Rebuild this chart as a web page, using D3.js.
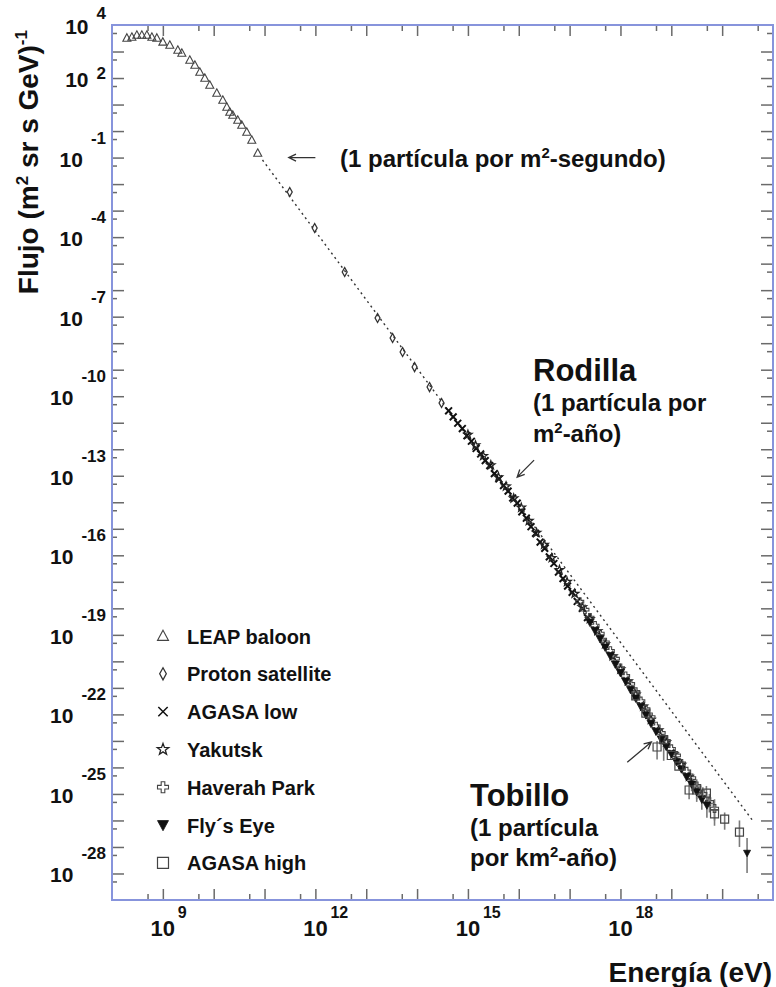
<!DOCTYPE html>
<html><head><meta charset="utf-8">
<script src="https://cdn.jsdelivr.net/npm/d3@7"></script>
<style>
body{margin:0;background:#fff}
svg{display:block}
text{font-family:"Liberation Sans",Arial,Helvetica,sans-serif;font-weight:bold;fill:#111}
</style>
</head><body><svg id="c" width="776" height="987"></svg>
<script>
// ---------------- DATA ----------------
const leapE = [1.96e8,2.46e8,3.08e8,3.86e8,4.85e8,6.08e8,7.62e8,1.0e9,1.37e9,1.97e9,2.36e9,3.39e9,4.26e9,5.33e9,6.68e9,8.37e9,1.15e10,1.51e10,1.81e10,2.07e10,2.37e10,2.97e10,3.56e10,4.47e10,5.61e10,7.35e10];
const leapF = [3.24e3,3.52e3,4.2e3,4.2e3,4.2e3,3.52e3,3.24e3,2.29e3,1.76e3,1.14e3,879,479,310,169,100,54.6,27.2,14.8,8.07,5.24,4.04,2.61,1.69,0.923,0.46,0.149];

const protonE = [3.13e11,9.68e11,3.77e12,1.67e13,3.30e13,5.19e13,8.93e13,1.76e14,3.03e14];
const protonF = [5.04e-3,2.21e-4,4.84e-6,8.91e-8,1.57e-8,4.65e-9,1.26e-9,2.22e-10,5.55e-11];

const agasaLowE = [4.17e14,5.13e14,6.31e14,7.76e14,9.55e14,1.17e15,1.45e15,1.78e15,2.19e15,2.69e15,3.31e15,4.07e15,5.01e15,6.17e15,7.59e15,9.33e15,1.15e16,1.41e16,1.74e16,2.14e16,2.63e16,3.24e16,3.98e16,4.90e16,6.03e16,7.41e16,9.12e16,1.12e17,1.41e17,1.78e17,2.24e17];
const agasaLowF = [2.82e-11,1.66e-11,9.55e-12,6.03e-12,3.24e-12,2.00e-12,1.07e-12,6.61e-13,3.72e-13,2.40e-13,1.20e-13,7.59e-14,4.27e-14,2.63e-14,1.45e-14,9.33e-15,4.37e-15,2.51e-15,1.20e-15,6.76e-16,3.16e-16,1.82e-16,8.71e-17,4.90e-17,2.34e-17,1.32e-17,6.92e-18,3.98e-18,1.82e-18,1.00e-18,4.47e-19];

const yakutskE = [1.00e15,1.41e15,2.00e15,2.82e15,3.98e15,5.62e15,7.94e15,1.12e16,1.58e16,2.24e16,3.16e16,4.47e16,6.31e16,8.91e16,1.26e17,1.78e17,2.51e17,3.55e17,5.01e17,7.08e17,1.00e18,1.41e18,2.00e18,2.82e18,3.98e18,5.62e18,7.94e18,1.12e19,1.58e19,2.24e19];
const yakutskF = [3.55e-12,1.41e-12,5.62e-13,2.51e-13,8.91e-14,3.98e-14,1.41e-14,6.31e-15,2.00e-15,7.08e-16,2.51e-16,7.94e-17,2.82e-17,1.00e-17,3.55e-18,1.12e-18,3.98e-19,1.41e-19,4.47e-20,1.58e-20,5.01e-21,1.78e-21,5.62e-22,2.00e-22,6.31e-23,2.51e-23,8.91e-24,3.16e-24,1.26e-24,4.47e-25];

const haverahE = [1.58e17,2.00e17,2.51e17,3.16e17,3.98e17,5.01e17,6.31e17,7.94e17,1.00e18,1.26e18,1.58e18,2.00e18,2.51e18,3.16e18,3.98e18,5.01e18,6.31e18,7.94e18,1.00e19,1.26e19,1.58e19,2.00e19,2.51e19,3.16e19,4.17e19,5.62e19,7.08e19];
const haverahF = [1.78e-18,8.91e-19,4.47e-19,2.24e-19,1.12e-19,5.25e-20,2.51e-20,1.26e-20,5.62e-21,2.82e-21,1.41e-21,7.08e-22,3.16e-22,1.58e-22,7.94e-23,3.55e-23,2.00e-23,1.00e-23,5.01e-24,2.82e-24,1.41e-24,7.08e-25,3.98e-25,2.00e-25,1.00e-25,5.01e-26,2.82e-26];
const haverahHi = [null,null,null,null,null,null,null,null,null,null,null,null,null,null,null,null,null,null,null,null,null,null,null,3.55e-25,1.78e-25,1.00e-25,6.31e-26];
const haverahLo = [null,null,null,null,null,null,null,null,null,null,null,null,null,null,null,null,null,null,null,null,null,null,null,1.12e-25,4.47e-26,2.00e-26,1.00e-26];

const flysEyeE = [2.51e17,3.16e17,3.98e17,5.01e17,6.31e17,7.94e17,1.00e18,1.26e18,1.58e18,2.00e18,2.51e18,3.16e18,3.98e18,5.01e18,6.31e18,7.94e18,1.00e19,1.26e19,1.58e19,2.00e19,2.51e19,3.16e19,3.98e19,5.01e19];
const flysEyeF = [2.95e-19,1.45e-19,7.08e-20,3.39e-20,1.62e-20,7.76e-21,3.72e-21,1.78e-21,8.51e-22,4.07e-22,2.00e-22,9.55e-23,4.57e-23,2.29e-23,1.17e-23,6.17e-24,3.24e-24,1.66e-24,8.71e-25,4.47e-25,2.34e-25,1.20e-25,6.31e-26,3.80e-26];
const flysEyeHi = [null,null,null,null,null,null,null,null,null,null,null,null,null,null,null,null,null,null,null,null,3.98e-25,2.24e-25,1.26e-25,7.94e-26];
const flysEyeLo = [null,null,null,null,null,null,null,null,null,null,null,null,null,null,null,null,null,null,null,null,1.26e-25,6.31e-26,2.51e-26,1.26e-26];
// upper limit point (Fly's Eye)
const flysLimitE = [3.09e20];
const flysLimitF = [5.89e-28];
const flysLimitHi = [2.19e-27];
const flysLimitLo = [1.05e-28];

const agasaHighE = [2.00e18,3.16e18,5.25e18,7.08e18,1.00e19,1.41e19,2.24e19,3.16e19,4.90e19,7.08e19,1.12e20,2.19e20];
const agasaHighF = [5.01e-22,1.12e-22,5.89e-24,1.12e-23,2.82e-24,1.12e-24,1.41e-25,1.41e-25,1.07e-25,1.78e-26,1.12e-26,3.63e-27];
const agasaHighHi = [null,null,1.0e-23,1.78e-23,null,null,2.51e-25,2.51e-25,2.0e-25,3.16e-26,2.0e-26,1.0e-26];
const agasaHighLo = [null,null,2.0e-24,1.78e-24,null,null,6.31e-26,5.01e-26,4.47e-26,6.31e-27,4.47e-27,1.0e-27];

// dotted reference line
const refE = [9.12e10, 3.89e20];
const refF = [8.13e-2, 1.05e-26];

// axis ticks and labels
const xMajorTicks = [1e9,1e10,1e11,1e12,1e13,1e14,1e15,1e16,1e17,1e18,1e19,1e20];
const xMinorTicks = [5e8,5e9,5e10,5e11,5e12,5e13,5e14,5e15,5e16,5e17,5e18,5e19,5e20];
const xLabelTicks = [1e9,1e12,1e15,1e18];
const xLabelExp = ["9","12","15","18"];
const yMajorTicks = [1e3,1e2,1e1,1e0,1e-1,1e-2,1e-3,1e-4,1e-5,1e-6,1e-7,1e-8,1e-9,1e-10,1e-11,1e-12,1e-13,1e-14,1e-15,1e-16,1e-17,1e-18,1e-19,1e-20,1e-21,1e-22,1e-23,1e-24,1e-25,1e-26,1e-27,1e-28];
const yMinorTicks = [5e3,5e2,5e1,5e0,5e-1,5e-2,5e-3,5e-4,5e-5,5e-6,5e-7,5e-8,5e-9,5e-10,5e-11,5e-12,5e-13,5e-14,5e-15,5e-16,5e-17,5e-18,5e-19,5e-20,5e-21,5e-22,5e-23,5e-24,5e-25,5e-26,5e-27,5e-28,5e-29];
const yLabelTicks = [1e4,1e2,1e-1,1e-4,1e-7,1e-10,1e-13,1e-16,1e-19,1e-22,1e-25,1e-28];
const yLabelExp = ["4","2","-1","-4","-7","-10","-13","-16","-19","-22","-25","-28"];

const legendNames = ["LEAP baloon","Proton satellite","AGASA low","Yakutsk","Haverah Park","Fly\u00b4s Eye","AGASA high"];
const legendSymbols = ["triUp","diamond","cross","star","openCross","triDown","square"];

// ---------------- CHART ----------------
const svg = d3.select("#c");
const L = 112, R = 773, T = 25, B = 900;
const x = d3.scaleLog().domain([1e8,1e21]).range([L,R]);
const y = d3.scaleLog().domain([1e-29,1e4]).range([B,T]);

function tickAxis(axisFn, scale, vals, size, tr){
  const g = svg.append("g").attr("transform", tr)
    .call(axisFn(scale).tickValues(vals).tickSize(size).tickFormat(""));
  g.select(".domain").remove();
  g.selectAll(".tick text").remove();
  g.selectAll(".tick line").attr("stroke","#6a6a6a").attr("stroke-width",1.5);
}
tickAxis(d3.axisBottom, x, xMajorTicks, -11, `translate(0,${B})`);
tickAxis(d3.axisBottom, x, xMinorTicks, -6, `translate(0,${B})`);
tickAxis(d3.axisTop, x, xMajorTicks, -11, `translate(0,${T})`);
tickAxis(d3.axisTop, x, xMinorTicks, -6, `translate(0,${T})`);
tickAxis(d3.axisLeft, y, yMajorTicks, -12, `translate(${L},0)`);
tickAxis(d3.axisLeft, y, yMinorTicks, -5, `translate(${L},0)`);
tickAxis(d3.axisRight, y, yMajorTicks, -12, `translate(${R},0)`);
tickAxis(d3.axisRight, y, yMinorTicks, -6, `translate(${R},0)`);

// frame
svg.append("rect").attr("x",L).attr("y",T).attr("width",R-L).attr("height",B-T)
  .attr("fill","none").attr("stroke","#8794dc").attr("stroke-width",2);

// x tick labels
xLabelTicks.forEach((v,i)=>{
  svg.append("text").attr("x",x(v)).attr("y",936).attr("text-anchor","middle")
    .attr("font-size",22).text("10");
  svg.append("text").attr("x",x(v)+15).attr("y",918).attr("text-anchor","start")
    .attr("font-size",16).text(xLabelExp[i]);
});
// y tick labels
const expLift = [15,8];
yLabelTicks.forEach((v,i)=>{
  const yy = y(v);
  const lift = i < expLift.length ? expLift[i] : 23;
  const t = svg.append("text").attr("x",106).attr("y",yy+9).attr("text-anchor","end").attr("font-size",21);
  t.append("tspan").text("10");
  t.append("tspan").attr("dx",8).attr("dy",-lift).attr("font-size",17).text(yLabelExp[i]);
});

// axis titles
svg.append("text").attr("x",772).attr("y",982).attr("text-anchor","end").attr("font-size",28).text("Energía (eV)");
const yt = svg.append("text").attr("transform","translate(38,30) rotate(-90)").attr("text-anchor","end").attr("font-size",28);
yt.append("tspan").text("Flujo (m");
yt.append("tspan").attr("font-size",17).attr("dy",-10).text("2");
yt.append("tspan").attr("dy",10).text(" sr s GeV)");
yt.append("tspan").attr("font-size",17).attr("dy",-11).text("-1");

// dotted reference line
const lineGen = d3.line().x(d=>x(d[0])).y(d=>y(d[1]));
svg.append("path").datum(refE.map((e,i)=>[e,refF[i]])).attr("d",lineGen)
  .attr("fill","none").attr("stroke","#333").attr("stroke-width",1.4).attr("stroke-dasharray","2,3.5");

// symbols
function sym(type, s){
  const a = s/2;
  switch(type){
    case "triUp": return `M0,${-a*1.05}L${a},${a*0.8}L${-a},${a*0.8}Z`;
    case "triDown": return `M0,${a*1.05}L${a},${-a*0.8}L${-a},${-a*0.8}Z`;
    case "diamond": return `M0,${-a}L${a*0.55},0L0,${a}L${-a*0.55},0Z`;
    case "square": return `M${-a},${-a}H${a}V${a}H${-a}Z`;
    case "cross": { const c=a*0.85; return `M${-c},${-c}L${c},${c}M${-c},${c}L${c},${-c}`; }
    case "openCross": { const b=a*0.33; return `M${-b},${-a}H${b}V${-b}H${a}V${b}H${b}V${a}H${-b}V${b}H${-a}V${-b}H${-b}Z`; }
    case "star": {
      let p=""; for(let k=0;k<10;k++){ const r = k%2===0 ? a*1.1 : a*0.45; const ang = -Math.PI/2 + k*Math.PI/5;
        p += (k===0?"M":"L") + (r*Math.cos(ang)).toFixed(2)+","+(r*Math.sin(ang)).toFixed(2);} return p+"Z"; }
  }
}
const symStyle = {
  triUp:{fill:"none",stroke:"#444",sw:1.1},
  diamond:{fill:"none",stroke:"#333",sw:1.3},
  cross:{fill:"none",stroke:"#111",sw:2},
  star:{fill:"none",stroke:"#222",sw:1.3},
  openCross:{fill:"none",stroke:"#444",sw:1.1},
  triDown:{fill:"#111",stroke:"#111",sw:0.8},
  square:{fill:"none",stroke:"#444",sw:1.2}
};

function drawErr(E, Hi, Lo){
  const d = E.map((e,i)=>({e,hi:Hi[i],lo:Lo[i]})).filter(o=>o.hi!=null);
  svg.append("g").selectAll("line").data(d).join("line")
    .attr("x1",o=>x(o.e)).attr("x2",o=>x(o.e)).attr("y1",o=>y(o.hi)).attr("y2",o=>y(o.lo))
    .attr("stroke","#7a7a7a").attr("stroke-width",1.6);
}
function drawSeries(E, F, type, size){
  const st = symStyle[type];
  svg.append("g").selectAll("path").data(E.map((e,i)=>[e,F[i]])).join("path")
    .attr("transform",d=>`translate(${x(d[0])},${y(d[1])})`)
    .attr("d",sym(type,size)).attr("fill",st.fill).attr("stroke",st.stroke).attr("stroke-width",st.sw);
}
drawErr(haverahE, haverahHi, haverahLo);
drawErr(flysEyeE, flysEyeHi, flysEyeLo);
drawErr(agasaHighE, agasaHighHi, agasaHighLo);
drawErr(flysLimitE, flysLimitHi, flysLimitLo);
drawSeries(leapE, leapF, "triUp", 8);
drawSeries(protonE, protonF, "diamond", 9);
drawSeries(agasaLowE, agasaLowF, "cross", 8);
drawSeries(yakutskE, yakutskF, "star", 8);
drawSeries(haverahE, haverahF, "openCross", 8);
drawSeries(flysEyeE, flysEyeF, "triDown", 8);
drawSeries(agasaHighE, agasaHighF, "square", 8);
drawSeries(flysLimitE, flysLimitF, "triDown", 7);

// legend
legendNames.forEach((n,i)=>{
  const cy = 636 + i*37.8;
  const type = legendSymbols[i];
  const st = symStyle[type];
  svg.append("path").attr("transform",`translate(163,${cy})`).attr("d",sym(type, type==="diamond"?12:11))
    .attr("fill",st.fill).attr("stroke",st.stroke).attr("stroke-width",Math.min(st.sw,1.5));
  svg.append("text").attr("x",187).attr("y",cy+7.5).attr("font-size",20).text(n);
});

// annotations
const ann = svg.append("g");
function arrow(e1,f1,e2,f2){
  const x1=x(e1), y1=y(f1), x2=x(e2), y2=y(f2);
  const ang = Math.atan2(y2-y1, x2-x1), hl = 8, ha = 0.45;
  ann.append("path").attr("d",`M${x1},${y1}L${x2},${y2}M${x2-hl*Math.cos(ang-ha)},${y2-hl*Math.sin(ang-ha)}L${x2},${y2}L${x2-hl*Math.cos(ang+ha)},${y2-hl*Math.sin(ang+ha)}`)
    .attr("fill","none").attr("stroke","#333").attr("stroke-width",1.3);
}
arrow(1e12,1e-1,3e11,1e-1);
arrow(2.0e16,3.9e-13,9.3e15,8.9e-14);
arrow(1.36e18,1.58e-24,4.05e18,9.1e-24);

function label(xx, yy, size, parts){
  const t = ann.append("text").attr("x",xx).attr("y",yy).attr("font-size",size);
  parts.forEach(p=>{
    const ts = t.append("tspan").text(p.t);
    if(p.sup){ ts.attr("font-size",size*0.62).attr("dy",-size*0.38); }
    if(p.back){ ts.attr("dy",size*0.38); }
  });
}
label(340,167,24,[{t:"(1 partícula por m"},{t:"2",sup:true},{t:"-segundo)",back:true}]);
label(533,381,31,[{t:"Rodilla"}]);
label(533,411,24,[{t:"(1 partícula por"}]);
label(533,442,24,[{t:"m"},{t:"2",sup:true},{t:"-año)",back:true}]);
label(470,806,31,[{t:"Tobillo"}]);
label(470,836,24,[{t:"(1 partícula"}]);
label(470,866,24,[{t:"por km"},{t:"2",sup:true},{t:"-año)",back:true}]);
</script></body></html>
